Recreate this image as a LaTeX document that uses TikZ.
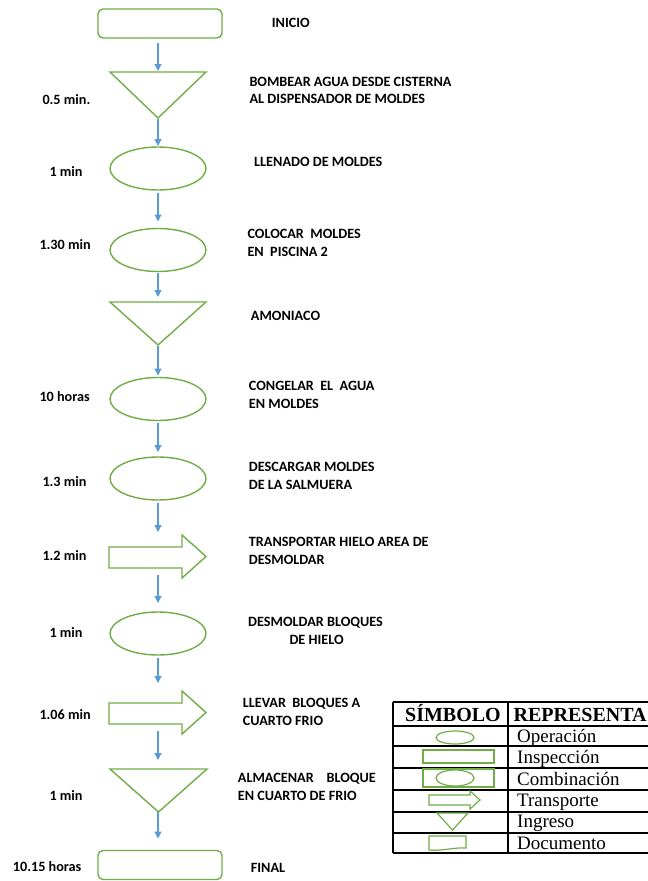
\documentclass[tikz,border=0pt]{standalone}
\usepackage{fontspec}
\setmainfont{Liberation Serif}
\newfontfamily\calib{Carlito}
\usetikzlibrary{arrows.meta,calc,shapes.geometric}
\definecolor{shpgreen}{HTML}{70AD47}
\definecolor{flowblue}{HTML}{5B9BD5}

\begin{document}
\begin{tikzpicture}[x=1pt,y=-1pt,
  shp/.style={draw=shpgreen, line width=1.4pt},
  phantom/.style={draw=none, inner sep=0pt, outer sep=0pt},
  endbox/.style={shp, rounded corners=5pt, minimum width=124pt, minimum height=29pt, inner sep=0pt, outer sep=0pt},
  oper/.style={shp, ellipse, minimum width=96pt, minimum height=43pt, inner sep=0pt, outer sep=0pt},
  flow/.style={draw=flowblue, line width=1.2pt, -{Triangle[length=7pt,width=7pt]}},
  lbl/.style={font=\calib\bfseries\fontsize{14.2}{18}\selectfont, inner sep=0pt, anchor=base west},
  cell/.style={font=\fontsize{19}{21}\selectfont, inner sep=0pt, anchor=base west},
  head/.style={cell, font=\fontsize{20}{21}\selectfont\bfseries},
  grid/.style={draw=black, line width=1.3pt},
  mini/.style={draw=shpgreen, line width=1.2pt}
]
\useasboundingbox (0,0) rectangle (648,881);

% ---------- process steps ----------
\node[endbox] (s0) at (160,23.5) {};
\node[phantom, minimum width=96pt, minimum height=46pt] (s1) at (158,95) {};
\draw[shp] (s1.north west) -- (s1.north east) -- (s1.south) -- cycle;
\node[oper] (s2) at (158,168.5) {};
\node[oper] (s3) at (158,250) {};
\node[phantom, minimum width=96pt, minimum height=43pt] (s4) at (158,323.5) {};
\draw[shp] (s4.north west) -- (s4.north east) -- (s4.south) -- cycle;
\node[oper] (s5) at (158,399) {};
\node[oper] (s6) at (158,478.5) {};
\node[phantom, minimum width=97pt, minimum height=43pt] (s7) at (157.5,556.5) {};
\draw[shp] ($(s7.north west)+(0,12)$) -- ($(s7.north west)+(73,12)$) -- ($(s7.north west)+(73,0)$)
  -- (s7.east) -- ($(s7.south west)+(73,0)$) -- ($(s7.south west)+(73,-10)$) -- ($(s7.south west)+(0,-10)$) -- cycle;
\node[oper] (s8) at (158,633.5) {};
\node[phantom, minimum width=97pt, minimum height=43pt] (s9) at (157.5,712.5) {};
\draw[shp] ($(s9.north west)+(0,12)$) -- ($(s9.north west)+(73,12)$) -- ($(s9.north west)+(73,0)$)
  -- (s9.east) -- ($(s9.south west)+(73,0)$) -- ($(s9.south west)+(73,-10)$) -- ($(s9.south west)+(0,-10)$) -- cycle;
\node[phantom, minimum width=97pt, minimum height=43pt] (s10) at (158.5,790.5) {};
\draw[shp] (s10.north west) -- (s10.north east) -- (s10.south) -- cycle;
\node[endbox] (s11) at (160,865) {};

% ---------- connectors ----------
\draw[flow, shorten <=5pt, shorten >=1pt] (s1.north |- s0.south) -- (s1.north);
\draw[flow, shorten <=1pt, shorten >=1pt] (s1.south) -- (s2.north);
\draw[flow, shorten <=3pt, shorten >=7pt] (s2.south) -- (s3.north);
\draw[flow, shorten <=1pt, shorten >=5pt] (s3.south) -- (s4.north);
\draw[flow, shorten <=1pt, shorten >=2pt] (s4.south) -- (s5.north);
\draw[flow, shorten <=2pt, shorten >=5pt] (s5.south) -- (s6.north);
\draw[flow, shorten <=3pt, shorten >=3pt] (s6.south) -- (s6.south |- s7.north);
\draw[flow, shorten <=-3pt, shorten >=9pt] (s8.north |- s7.south) -- (s8.north);
\draw[flow, shorten <=3pt, shorten >=8pt] (s8.south) -- (s8.south |- s9.north);
\draw[flow, shorten <=-3pt, shorten >=9pt] (s6.south |- s9.south) -- (s6.south |- s10.north);
\draw[flow, shorten <=0pt, shorten >=12pt] (s6.south |- s10.south) -- (s6.south |- s11.north);

% ---------- times ----------
\node[lbl] (t1) at (42.3,104) {0.5 min.};
\node[lbl] (t2) at (49.3,176.5) {1 min};
\node[lbl] (t3) at (39.3,249) {1.30 min};
\node[lbl] (t5) at (39.3,401.5) {10 horas};
\node[lbl] (t6) at (42.3,486) {1.3 min};
\node[lbl] (t7) at (42.3,560) {1.2 min};
\node[lbl] (t8) at (49.3,637.5) {1 min};
\node[lbl] (t9) at (39.3,719) {1.06 min};
\node[lbl] (t10) at (49.3,800.5) {1 min};
\node[lbl] (t11) at (12.7,871) {10.15 horas};

% ---------- descriptions ----------
\node[lbl] (d0) at (271.7,27) {INICIO};
\node[lbl] (d1a) at (249.3,86) {BOMBEAR AGUA DESDE CISTERNA};
\node[lbl] (d1b) at (249.3,103.5) {AL DISPENSADOR DE MOLDES};
\node[lbl] (d2) at (254,166) {LLENADO DE MOLDES};
\node[lbl] (d3a) at (247.3,238.5) {COLOCAR\ \ MOLDES};
\node[lbl] (d3b) at (247.3,256) {EN\ \ PISCINA 2};
\node[lbl] (d4) at (250.7,320.5) {AMONIACO};
\node[lbl] (d5a) at (248.7,390.5) {CONGELAR\ \ EL\ \ AGUA};
\node[lbl] (d5b) at (248.7,408) {EN MOLDES};
\node[lbl] (d6a) at (248.7,471.5) {DESCARGAR MOLDES};
\node[lbl] (d6b) at (248.7,489) {DE LA SALMUERA};
\node[lbl] (d7a) at (248.7,546.5) {TRANSPORTAR HIELO AREA DE};
\node[lbl] (d7b) at (248.7,564) {DESMOLDAR};
\node[lbl] (d8a) at (248,626.5) {DESMOLDAR BLOQUES};
\node[lbl] (d8b) at (289.3,644) {DE HIELO};
\node[lbl] (d9a) at (242.7,707) {LLEVAR\ \ BLOQUES A};
\node[lbl] (d9b) at (242.7,725) {CUARTO FRIO};
\node[lbl] (d10a) at (237.7,782) {ALMACENAR\ \ \ \ BLOQUE};
\node[lbl] (d10b) at (237.7,800.5) {EN CUARTO DE FRIO};
\node[lbl] (d11) at (250.7,872.5) {FINAL};

% ---------- legend table ----------
\foreach \yy in {702,726,746,768,790,812,833,853}
  \draw[grid] (393,\yy) -- (660,\yy);
\draw[grid] (393,702) -- (393,853);
\draw[grid] (508,702) -- (508,853);

\node[head] (hsym) at (405,721) {SÍMBOLO};
\node[head] (hrep) at (513.5,721) {REPRESENTA};
\node[cell] (r1) at (517,742.7) {Operación};
\node[cell] (r2) at (517,763.3) {Inspección};
\node[cell] (r3) at (517,785) {Combinación};
\node[cell] (r4) at (517,806.7) {Transporte};
\node[cell] (r5) at (517,827.3) {Ingreso};
\node[cell] (r6) at (517,849) {Documento};

% symbols of the legend
\node[mini, ellipse, minimum width=38pt, minimum height=13pt, inner sep=0pt] (k1) at (455,737.5) {};
\node[mini, minimum width=71pt, minimum height=13pt, inner sep=0pt] (k2) at (458.5,756.5) {};
\node[mini, minimum width=71pt, minimum height=18pt, inner sep=0pt] (k3) at (458.5,778) {};
\node[mini, ellipse, minimum width=38pt, minimum height=16pt, inner sep=0pt] (k3e) at (455,778) {};
\draw[mini] (429,795) -- (470,795) -- (470,791) -- (480,800) -- (470,809) -- (470,805) -- (429,805) -- cycle;
\draw[mini] (437,813) -- (468,813) -- (452.5,830) -- cycle;
\draw[mini] (429,836) -- (466,836) -- (466,848) .. controls (455,847) and (440,851.5) .. (429,850) -- cycle;
\end{tikzpicture}
\end{document}
